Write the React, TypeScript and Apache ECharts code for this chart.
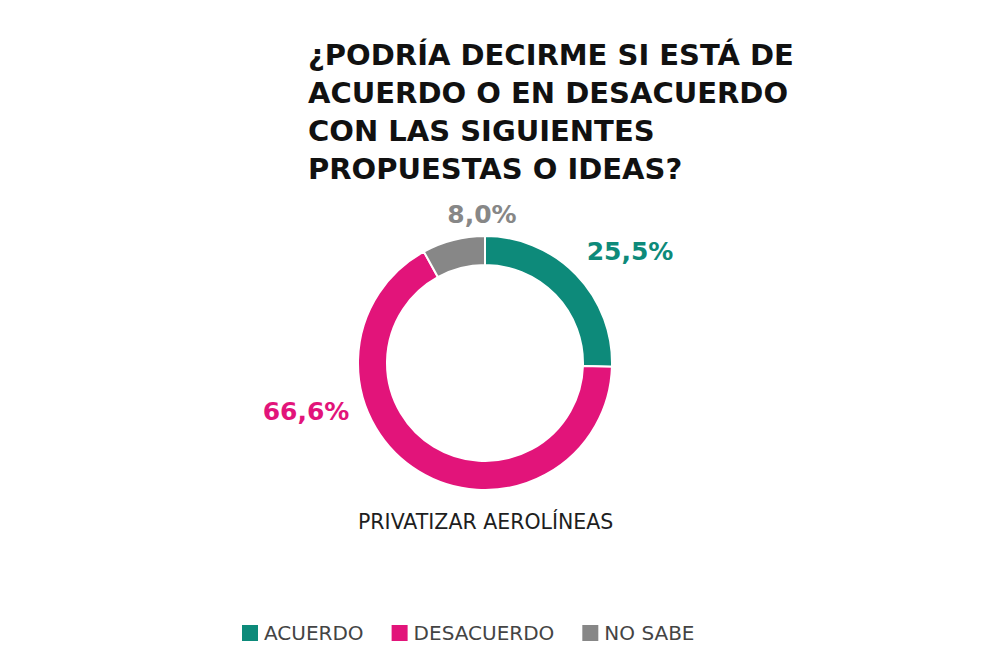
import React, { useEffect, useRef } from "react";
import * as echarts from "echarts";

const categories = ["ACUERDO", "DESACUERDO", "NO SABE"];
const values = [25.5, 66.6, 8.0];
const colors = ["#0d8a7a", "#e2147a", "#878787"];

const titleText = "¿PODRÍA DECIRME SI ESTÁ DE\nACUERDO O EN DESACUERDO\nCON LAS SIGUIENTES\nPROPUESTAS O IDEAS?";
const subtitleText = "PRIVATIZAR AEROLÍNEAS";

// where each percentage label sits (page pixels, label centre)
const labelAnchors: [number, number][] = [
  [630, 251],
  [306, 411],
  [482, 214],
];

const FONT = "'DejaVu Sans', sans-serif";

export default function App() {
  const ref = useRef<HTMLDivElement>(null);

  useEffect(() => {
    if (!ref.current) return;
    const chart = echarts.init(ref.current, null, { renderer: "svg" });
    chart.setOption({
      animation: false,
      backgroundColor: "#ffffff",
      title: [
        {
          text: titleText,
          left: 303,
          top: 31,
          textStyle: {
            fontFamily: FONT,
            fontWeight: "bold",
            fontSize: 29,
            lineHeight: 38,
            color: "#111111",
          },
        },
        {
          text: subtitleText,
          left: 353,
          top: 506,
          textStyle: {
            fontFamily: FONT,
            fontWeight: "normal",
            fontSize: 20.5,
            color: "#1e1e1e",
          },
        },
      ],
      legend: {
        data: categories,
        left: 240,
        top: 623,
        padding: 0,
        icon: "rect",
        itemWidth: 18,
        itemHeight: 18,
        itemGap: 26,
        textStyle: {
          fontFamily: FONT,
          fontSize: 20,
          color: "#444444",
        },
      },
      series: [
        {
          type: "pie",
          center: [485, 363],
          radius: [98, 127],
          startAngle: 90,
          clockwise: true,
          avoidLabelOverlap: false,
          itemStyle: { borderColor: "#ffffff", borderWidth: 2 },
          emphasis: { disabled: true },
          label: {
            show: true,
            position: "outside",
            fontFamily: FONT,
            fontWeight: "bold",
            fontSize: 25,
            formatter: (p: any) => p.value.toFixed(1).replace(".", ",") + "%",
          },
          labelLine: { show: false },
          labelLayout: (p: any) => ({
            x: labelAnchors[p.dataIndex][0],
            y: labelAnchors[p.dataIndex][1],
            align: "center",
            verticalAlign: "middle",
          }),
          data: categories.map((name, i) => ({
            name,
            value: values[i],
            itemStyle: { color: colors[i] },
            label: { color: colors[i] },
          })),
        },
      ],
    });
    return () => chart.dispose();
  }, []);

  return (
    <div
      ref={ref}
      style={{ position: "fixed", left: 0, top: 0, width: 1000, height: 667 }}
    />
  );
}
